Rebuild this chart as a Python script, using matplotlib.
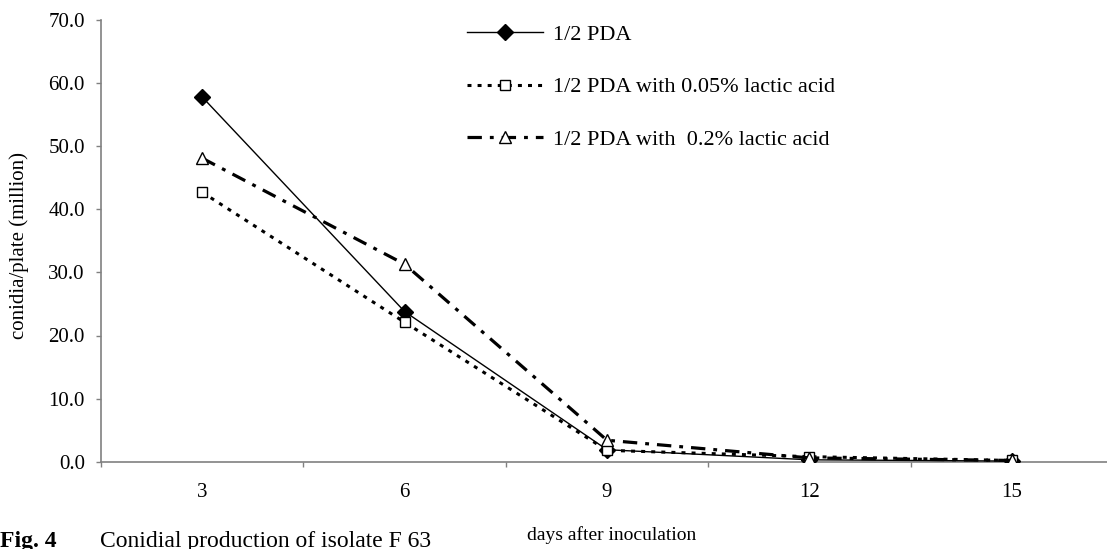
import matplotlib.pyplot as plt
import numpy as np

# data
days = ["3", "6", "9", "12", "15"]
pda = [57.8, 23.8, 1.9, 0.3, 0.1]
pda_005 = [42.7, 22.1, 1.8, 0.8, 0.2]
pda_02 = [48.1, 31.3, 3.4, 0.6, 0.2]
labels = ["1/2 PDA", "1/2 PDA with 0.05% lactic acid", "1/2 PDA with  0.2% lactic acid"]
yticks = [0, 10, 20, 30, 40, 50, 60, 70]

plt.rcParams['font.family'] = ['Liberation Serif', 'DejaVu Serif']

W, H = 1107, 549
fig = plt.figure(figsize=(W / 100, H / 100), dpi=100)
ax = fig.add_axes([101 / W, 1 - 461.7 / H, (1113 - 101) / W, (461.7 - 20) / H])

x = np.arange(len(days))
ax.plot(x, pda, color="black", linewidth=1, marker="D", markersize=8.5,
        markerfacecolor="black", markeredgecolor="black", label=labels[0], zorder=3)
ax.plot(x, pda_005, color="black", linewidth=2.2, linestyle=(0, (1.3, 2.0)),
        marker="s", markersize=7.5, markerfacecolor="white", markeredgecolor="black",
        markeredgewidth=1, label=labels[1], zorder=4)
ax.plot(x, pda_02, color="black", linewidth=2.3, linestyle=(0, (4.5, 2.5, 1.2, 2.5)),
        marker="^", markersize=9, markerfacecolor="white", markeredgecolor="black",
        markeredgewidth=1, label=labels[2], zorder=5)

ax.set_xlim(-0.5, len(days) - 0.5)
ax.set_ylim(0, 70)
ax.set_yticks(yticks)
ax.set_yticklabels([f"{v:.1f}" for v in yticks], fontsize=15)
ax.set_xticks(x)
ax.set_xticklabels(days, fontsize=15)
ax.set_xticks(np.arange(-0.5, len(days) + 0.5, 1), minor=True)
ax.tick_params(axis="x", which="major", length=0, pad=15)
ax.tick_params(axis="x", which="minor", length=3.6, width=1, color="#808080", direction="out")
ax.tick_params(axis="y", length=3.6, width=1, color="#808080", direction="out", pad=8)

for s in ["top", "right"]:
    ax.spines[s].set_visible(False)
for s in ["left", "bottom"]:
    ax.spines[s].set_color("#808080")
    ax.spines[s].set_linewidth(1.2)

ax.set_ylabel("conidia/plate (million)", fontsize=15)
ax.yaxis.set_label_coords((29 - 101) / 1012, 0.49)

leg = ax.legend(loc="upper left", bbox_to_anchor=(467 / W, 1 - 24 / H),
                bbox_transform=fig.transFigure, frameon=False, fontsize=16,
                handlelength=3.4, handletextpad=0.45, labelspacing=1.45,
                borderpad=0, borderaxespad=0)

fig.text(612 / W, 1 - 535 / H, "days after inoculation", fontsize=14,
         ha="center", va="center")
fig.text(0, 1 - 547 / H, "Fig. 4", fontsize=17, fontweight="bold",
         ha="left", va="baseline")
fig.text(100 / W, 1 - 547 / H, "Conidial production of isolate F 63", fontsize=17,
         ha="left", va="baseline")

fig.savefig("out.png", dpi=100)
